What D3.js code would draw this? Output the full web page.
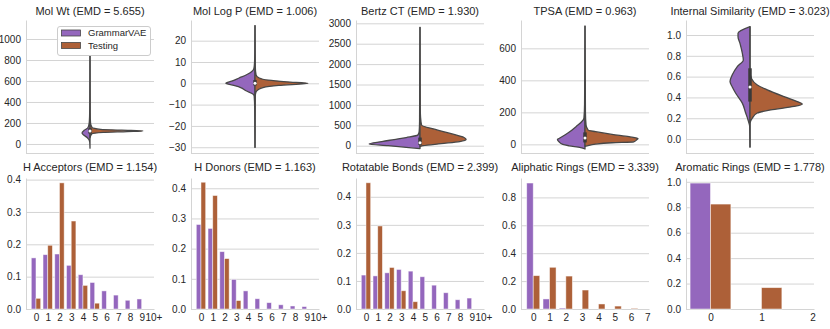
<!DOCTYPE html>
<html>
<head>
<meta charset="utf-8">
<script src="https://cdn.jsdelivr.net/npm/d3@7"></script>
<style>
  body { margin: 0; background: #fff; }
</style>
</head>
<body>
<script>
// ---- data ----
// violin profiles: [value, relative half-width (1 = widest)]
const molWtGvae = [[-40, 0], [20, 0.005], [60, 0.05], [85, 0.12], [105, 0.15], [130, 0.11], [155, 0.04], [200, 0.015], [260, 0.008], [400, 0.003], [840, 0]]
const molWtTest = [[60, 0], [95, 0.03], [110, 0.25], [118, 0.7], [124, 1], [131, 0.6], [140, 0.2], [155, 0.04], [200, 0.01], [300, 0.003], [840, 0]]
const molWtBox = [100, 124, 150]

const logPGvae = [[-30, 0], [-12, 0.005], [-6, 0.015], [-5, 0.04], [-3.5, 0.17], [-2, 0.27], [-1, 0.4], [0, 0.55], [1, 0.44], [2.5, 0.3], [4, 0.16], [5.5, 0.06], [7, 0.02], [10, 0.008], [15, 0.003], [27, 0]]
const logPTest = [[-30, 0], [-6, 0.005], [-4, 0.02], [-3, 0.06], [-2, 0.15], [-1, 0.45], [0, 1], [0.7, 0.6], [1.5, 0.25], [2.5, 0.08], [4, 0.02], [8, 0.005], [27, 0]]
const logPBox = [-1, 0, 1.5]

const bertzGvae = [[-70, 0], [-40, 0.26], [0, 0.6], [40, 0.96], [100, 0.72], [150, 0.49], [200, 0.26], [262, 0.04], [350, 0.015], [600, 0.008], [2900, 0]]
const bertzTest = [[-20, 0], [0, 0.06], [50, 0.4], [100, 0.75], [150, 0.87], [200, 0.83], [300, 0.57], [400, 0.29], [505, 0.03], [700, 0.01], [900, 0.005], [2900, 0]]
const bertzBox = [20, 75, 200]

const tpsaGvae = [[-29, 0], [-21, 0.08], [-9, 0.3], [0, 0.42], [16, 0.49], [31, 0.52], [37, 0.49], [69, 0.33], [110, 0.17], [164, 0.02], [250, 0.008], [739, 0]]
const tpsaTest = [[-12, 0], [-9, 0.04], [2, 0.2], [10, 0.51], [16, 0.92], [30, 0.98], [37, 1], [48, 0.83], [62, 0.51], [79, 0.2], [89, 0.06], [120, 0.02], [200, 0.008], [739, 0]]
const tpsaBox = [12, 40, 75]

const simGvae = [[-0.077, 0], [0.12, 0.006], [0.185, 0.038], [0.25, 0.081], [0.345, 0.145], [0.44, 0.27], [0.5, 0.334], [0.552, 0.377], [0.617, 0.334], [0.696, 0.24], [0.76, 0.126], [0.825, 0.145], [0.92, 0.189], [0.984, 0.226], [1.016, 0.226], [1.08, 0]]
const simTest = [[-0.077, 0], [0.15, 0], [0.2, 0.043], [0.25, 0.138], [0.28, 0.39], [0.313, 0.83], [0.338, 0.987], [0.36, 0.892], [0.408, 0.642], [0.473, 0.326], [0.52, 0.138], [0.58, 0.03], [0.65, 0], [1.08, 0]]
const simBox = [0.36, 0.5, 0.68]

const violinNames = ["Mol Wt", "Mol Log P", "Bertz CT", "TPSA", "Internal Similarity"]
const violinEmd = [5.655, 1.006, 1.930, 0.963, 3.023]

const molWtTicks = [0, 200, 400, 600, 800, 1000]
const logPTicks = [-30, -20, -10, 0, 10, 20]
const bertzTicks = [0, 500, 1000, 1500, 2000, 2500, 3000]
const tpsaTicks = [0, 200, 400, 600]
const simTicks = [0, 0.2, 0.4, 0.6, 0.8, 1.0]

// bar histograms
const countCats = ["0", "1", "2", "3", "4", "5", "6", "7", "8", "9", "10+"]
const aliphCats = ["0", "1", "2", "3", "4", "5", "6", "7"]
const aromCats = ["0", "1", "2"]

const hAccGvae = [0.158, 0.168, 0.170, 0.135, 0.106, 0.082, 0.056, 0.043, 0.027, 0.031, 0]
const hAccTest = [0.033, 0.197, 0.390, 0.272, 0.073, 0.018, 0, 0, 0, 0, 0]
const hDonGvae = [0.280, 0.267, 0.190, 0.098, 0.060, 0.034, 0.021, 0.014, 0.010, 0.008, 0]
const hDonTest = [0.420, 0.376, 0.167, 0.028, 0, 0, 0, 0, 0, 0, 0]
const rotGvae = [0.121, 0.118, 0.129, 0.141, 0.135, 0.115, 0.085, 0.058, 0.033, 0.039, 0]
const rotTest = [0.450, 0.296, 0.148, 0.065, 0.026, 0, 0, 0, 0, 0, 0]
const aliphGvae = [0.903, 0.072, 0.007, 0, 0, 0, 0, 0]
const aliphTest = [0.239, 0.299, 0.236, 0.136, 0.036, 0.021, 0.005, 0]
const aromGvae = [0.990, 0, 0]
const aromTest = [0.825, 0.168, 0]

const barNames = ["H Acceptors", "H Donors", "Rotatable Bonds", "Aliphatic Rings", "Aromatic Rings"]
const barEmd = [1.154, 1.163, 2.399, 3.339, 1.778]

const tenthTicks = [0, 0.1, 0.2, 0.3, 0.4]
const fifthTicks = [0, 0.2, 0.4, 0.6, 0.8]
const aromTicks = [0, 0.2, 0.4, 0.6, 0.8, 1.0]

const seriesNames = ["GrammarVAE", "Testing"]

// ---- style / layout ----
const PURPLE = "#9467bd"
const BROWN = "#ad6038"
const OUTLINE = "#474747"
const GRID = "#d4d4d4"
const TEXT = "#262626"
const FONT = "'Liberation Sans', Arial, sans-serif"

const COL_X = [26, 191, 356, 521, 686]
const PANEL_W = 128
const TOP = { y0: 20, y1: 153, title: 15 }
const BOT = { y0: 178, y1: 309, title: 171 }
const HALF_W = 53

const violins = [
  { gvae: molWtGvae, test: molWtTest, box: molWtBox, domain: [-86, 1181], ticks: molWtTicks, fmt: "d" },
  { gvae: logPGvae, test: logPTest, box: logPBox, domain: [-32.7, 29.7], ticks: logPTicks, fmt: "d" },
  { gvae: bertzGvae, test: bertzTest, box: bertzBox, domain: [-179, 3081], ticks: bertzTicks, fmt: "d" },
  { gvae: tpsaGvae, test: tpsaTest, box: tpsaBox, domain: [-54, 777], ticks: tpsaTicks, fmt: "d" },
  { gvae: simGvae, test: simTest, box: simBox, domain: [-0.134, 1.144], ticks: simTicks, fmt: ".1f" }
]

const bars = [
  { cats: countCats, gvae: hAccGvae, test: hAccTest, xDomain: [-0.85, 10.05], yMax: 0.405, ticks: tenthTicks },
  { cats: countCats, gvae: hDonGvae, test: hDonTest, xDomain: [-0.85, 10.05], yMax: 0.434, ticks: tenthTicks },
  { cats: countCats, gvae: rotGvae, test: rotTest, xDomain: [-0.85, 10.05], yMax: 0.467, ticks: tenthTicks },
  { cats: aliphCats, gvae: aliphGvae, test: aliphTest, xDomain: [-0.75, 7.1], yMax: 0.939, ticks: fifthTicks },
  { cats: aromCats, gvae: aromGvae, test: aromTest, xDomain: [-0.48, 2.03], yMax: 1.03, ticks: aromTicks }
]

const svg = d3.select("body").append("svg")
  .attr("width", 830)
  .attr("height", 329)
  .attr("font-family", FONT)

// y axis with gridlines + left spine
function drawYAxis(g, x0, y, ticks, fmt) {
  g.append("g")
    .attr("transform", `translate(${x0}, 0)`)
    .call(d3.axisLeft(y)
      .tickValues(ticks)
      .tickFormat(d3.format(fmt))
      .tickSize(-PANEL_W)
      .tickSizeOuter(0)
      .tickPadding(5))
    .attr("font-family", FONT)
    .attr("font-size", 10)
    .call(a => a.select(".domain").attr("stroke", GRID))
    .call(a => a.selectAll(".tick line").attr("stroke", GRID))
    .call(a => a.selectAll(".tick text").attr("fill", TEXT))
}

function title(g, x, y, txt) {
  g.append("text")
    .attr("x", x)
    .attr("y", y)
    .attr("text-anchor", "middle")
    .attr("font-size", 11)
    .attr("fill", TEXT)
    .text(txt)
}

// ---- top row: split violins ----
violins.forEach((p, i) => {
  const x0 = COL_X[i]
  const cx = x0 + PANEL_W / 2
  const g = svg.append("g")

  const y = d3.scaleLinear().domain(p.domain).range([TOP.y1, TOP.y0])
  const w = d3.scaleLinear().domain([0, 1]).range([0, HALF_W])

  drawYAxis(g, x0, y, p.ticks, p.fmt)

  // bottom spine
  g.append("line")
    .attr("x1", x0).attr("x2", x0 + PANEL_W)
    .attr("y1", TOP.y1 + 0.5).attr("y2", TOP.y1 + 0.5)
    .attr("stroke", GRID)

  const left = d3.area()
    .y(d => y(d[0]))
    .x0(cx)
    .x1(d => cx - w(d[1]))
    .curve(d3.curveMonotoneY)

  const right = d3.area()
    .y(d => y(d[0]))
    .x0(cx)
    .x1(d => cx + w(d[1]))
    .curve(d3.curveMonotoneY)

  g.append("path")
    .attr("d", left(p.gvae))
    .attr("fill", PURPLE)
    .attr("stroke", OUTLINE)
    .attr("stroke-width", 1.3)
    .attr("stroke-linejoin", "round")

  g.append("path")
    .attr("d", right(p.test))
    .attr("fill", BROWN)
    .attr("stroke", OUTLINE)
    .attr("stroke-width", 1.3)
    .attr("stroke-linejoin", "round")

  // inner box: quartiles + median
  g.append("line")
    .attr("x1", cx).attr("x2", cx)
    .attr("y1", y(p.box[0])).attr("y2", y(p.box[2]))
    .attr("stroke", "#3a3a3a")
    .attr("stroke-width", 3.5)

  g.append("circle")
    .attr("cx", cx)
    .attr("cy", y(p.box[1]))
    .attr("r", 1.5)
    .attr("fill", "white")

  title(g, cx, TOP.title, `${violinNames[i]} (EMD = ${d3.format(".3f")(violinEmd[i])})`)
})

// legend in first panel
const legend = svg.append("g").attr("font-size", 9.5)
legend.append("rect")
  .attr("x", 57.5).attr("y", 26.5)
  .attr("width", 93).attr("height", 29)
  .attr("rx", 2.5)
  .attr("fill", "white")
  .attr("fill-opacity", 0.9)
  .attr("stroke", "#cccccc")

seriesNames.forEach((s, j) => {
  legend.append("rect")
    .attr("x", 61.5).attr("y", 30 + j * 12.5)
    .attr("width", 19).attr("height", 6)
    .attr("fill", j === 0 ? PURPLE : BROWN)
    .attr("stroke", OUTLINE)
    .attr("stroke-width", 0.8)
  legend.append("text")
    .attr("x", 88).attr("y", 33 + j * 12.5)
    .attr("dy", "0.35em")
    .attr("fill", TEXT)
    .text(s)
})

// ---- bottom row: paired bars ----
bars.forEach((p, i) => {
  const x0 = COL_X[i]
  const g = svg.append("g")

  const x = d3.scaleLinear().domain(p.xDomain).range([x0, x0 + PANEL_W])
  const y = d3.scaleLinear().domain([0, p.yMax]).range([BOT.y1, BOT.y0])

  drawYAxis(g, x0, y, p.ticks, ".1f")

  g.append("g")
    .attr("transform", `translate(0, ${BOT.y1})`)
    .call(d3.axisBottom(x)
      .tickValues(d3.range(p.cats.length))
      .tickFormat(k => p.cats[k])
      .tickSize(0)
      .tickPadding(5))
    .attr("font-family", FONT)
    .attr("font-size", 10)
    .call(a => a.select(".domain").attr("stroke", GRID))
    .call(a => a.selectAll(".tick text").attr("fill", TEXT))

  const rows = p.cats.map((c, k) => ({ k, gvae: p.gvae[k], test: p.test[k] }))

  g.selectAll("rect.gvae")
    .data(rows.filter(d => d.gvae > 0))
    .enter().append("rect")
    .attr("class", "gvae")
    .attr("x", d => x(d.k - 0.4))
    .attr("width", d => x(d.k) - x(d.k - 0.4))
    .attr("y", d => y(d.gvae))
    .attr("height", d => y(0) - y(d.gvae))
    .attr("fill", PURPLE)
    .attr("stroke", "white")
    .attr("stroke-opacity", 0.6)
    .attr("stroke-width", 0.8)

  g.selectAll("rect.test")
    .data(rows.filter(d => d.test > 0))
    .enter().append("rect")
    .attr("class", "test")
    .attr("x", d => x(d.k))
    .attr("width", d => x(d.k + 0.4) - x(d.k))
    .attr("y", d => y(d.test))
    .attr("height", d => y(0) - y(d.test))
    .attr("fill", BROWN)
    .attr("stroke", "white")
    .attr("stroke-opacity", 0.6)
    .attr("stroke-width", 0.8)

  title(g, x0 + PANEL_W / 2, BOT.title, `${barNames[i]} (EMD = ${d3.format(".3f")(barEmd[i])})`)
})
</script>
</body>
</html>
